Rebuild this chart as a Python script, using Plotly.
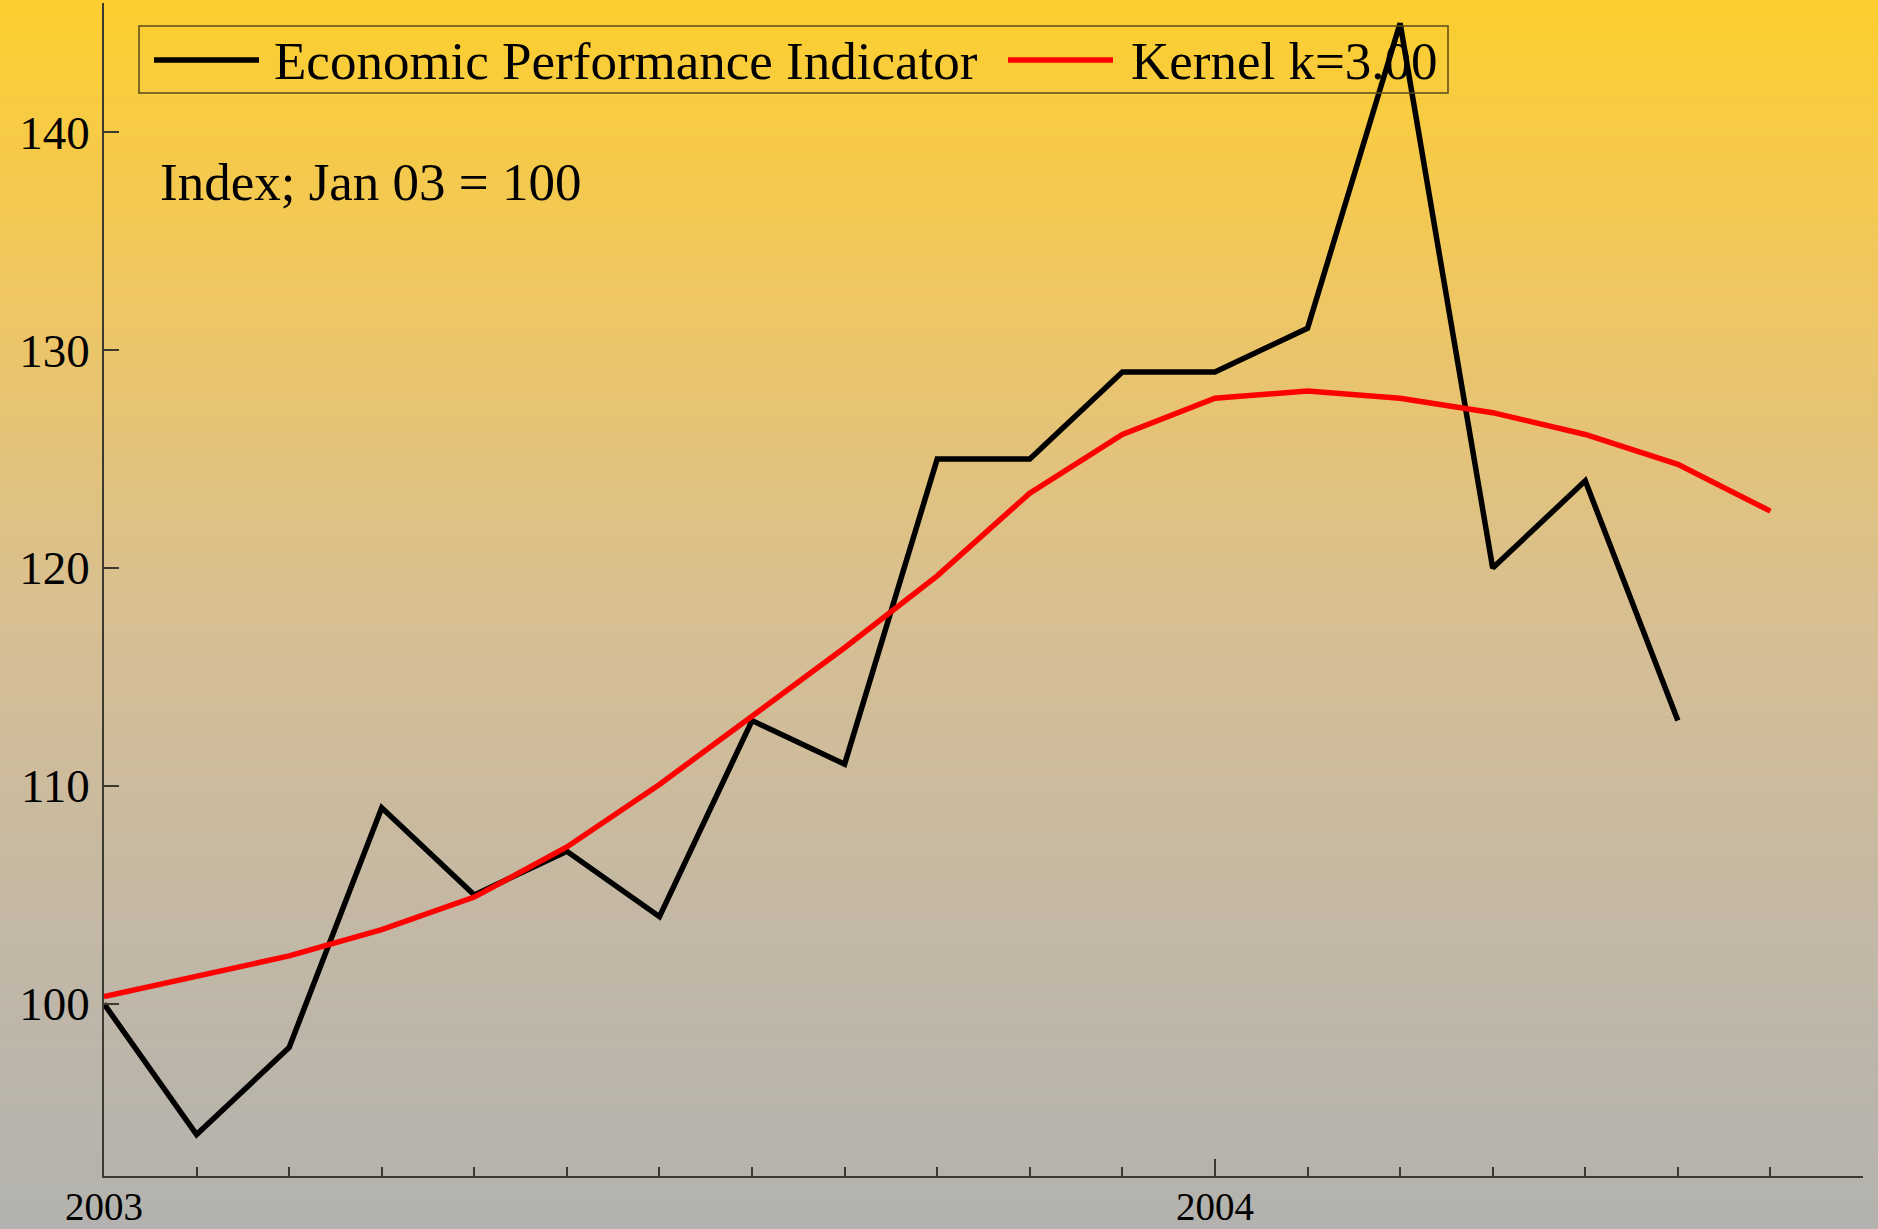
import plotly.graph_objects as go

# ---------------- data ----------------
months = ["Jan 03", "Feb 03", "Mar 03", "Apr 03", "May 03", "Jun 03", "Jul 03",
          "Aug 03", "Sep 03", "Oct 03", "Nov 03", "Dec 03", "Jan 04", "Feb 04",
          "Mar 04", "Apr 04", "May 04", "Jun 04", "Jul 04", "Aug 04"]
economic_indicator = [100, 94, 98, 109, 105, 107, 104, 113, 111, 125, 125, 129,
                      129, 131, 145, 120, 124, 113]
kernel_k3 = [100.33, 101.27, 102.2, 103.41, 104.9, 107.2, 110.07, 113.2, 116.34,
             119.64, 123.44, 126.13, 127.79, 128.12, 127.79, 127.13, 126.13,
             124.76, 122.61]
year_labels = ["2003", "2004"]
year_positions = [months.index("Jan 03"), months.index("Jan 04")]
y_ticks = [100, 110, 120, 130, 140]
series_names = ["Economic Performance Indicator", "Kernel k=3.00"]
note_text = "Index; Jan 03 = 100"

# ---------------- layout geometry ----------------
W, H = 1878, 1229
ML, MR, MT, MB = 104, 15, 3, 53
PW, PH = W - ML - MR, H - MT - MB
FONT = "Liberation Serif, Times New Roman, serif"


def px(x):
    return (x - ML) / PW


def py(y):
    return (H - MB - y) / PH


x_idx = list(range(len(months)))

fig = go.Figure()
fig.add_trace(go.Scatter(x=x_idx[:len(economic_indicator)], y=economic_indicator,
                         mode="lines", name=series_names[0],
                         line=dict(color="black", width=5.5), showlegend=False))
fig.add_trace(go.Scatter(x=x_idx[:len(kernel_k3)], y=kernel_k3,
                         mode="lines", name=series_names[1],
                         line=dict(color="#ff0000", width=5.5), showlegend=False))

# ---------------- background gradient ----------------
stops = [(0.0, (253, 206, 46)), (0.25, (238, 198, 100)), (0.5, (215, 191, 146)),
         (0.75, (195, 184, 165)), (1.0, (179, 178, 174))]


def grad(t):
    for (t0, c0), (t1, c1) in zip(stops[:-1], stops[1:]):
        if t0 <= t <= t1:
            f = (t - t0) / (t1 - t0)
            return "rgb(%d,%d,%d)" % tuple(round(a + (b - a) * f) for a, b in zip(c0, c1))
    return "rgb(%d,%d,%d)" % stops[-1][1]


shapes = []
step = 4
for row in range(0, H, step):
    shapes.append(dict(type="rect", xref="paper", yref="paper", layer="below",
                       x0=px(0), x1=px(W), y0=py(row + step + 0.5), y1=py(row),
                       fillcolor=grad((row + step / 2) / H), line=dict(width=0)))

# ---------------- manual legend ----------------
shapes.append(dict(type="rect", xref="paper", yref="paper", layer="above",
                   x0=px(139), x1=px(1448), y0=py(93), y1=py(26),
                   line=dict(color="#5a4a1a", width=1.5), fillcolor="rgba(0,0,0,0)"))
shapes.append(dict(type="line", xref="paper", yref="paper", layer="above",
                   x0=px(154), x1=px(259), y0=py(60), y1=py(60),
                   line=dict(color="black", width=5.5)))
shapes.append(dict(type="line", xref="paper", yref="paper", layer="above",
                   x0=px(1008), x1=px(1113), y0=py(60), y1=py(60),
                   line=dict(color="#ff0000", width=5.5)))

annotations = [
    dict(text=series_names[0], xref="paper", yref="paper", x=px(272), y=py(61),
         xanchor="left", yanchor="middle", showarrow=False,
         font=dict(family=FONT, size=53, color="black")),
    dict(text=series_names[1], xref="paper", yref="paper", x=px(1129), y=py(61),
         xanchor="left", yanchor="middle", showarrow=False,
         font=dict(family=FONT, size=53, color="black")),
    dict(text=note_text, xref="paper", yref="paper", x=px(158), y=py(182),
         xanchor="left", yanchor="middle", showarrow=False,
         font=dict(family=FONT, size=53, color="black")),
]

axis_col = "#3c3a30"
fig.update_layout(
    width=W, height=H,
    margin=dict(l=ML, r=MR, t=MT, b=MB, pad=0, autoexpand=False),
    paper_bgcolor="rgb(179,178,174)",
    plot_bgcolor="rgba(0,0,0,0)",
    shapes=shapes,
    annotations=annotations,
    showlegend=False,
    xaxis=dict(range=[0, len(months) - 1], showgrid=False, zeroline=False,
               automargin=False,
               showline=True, linecolor=axis_col, linewidth=1.5,
               tickmode="array", tickvals=year_positions, ticktext=year_labels,
               ticks="inside", ticklen=17, tickwidth=1.5, tickcolor=axis_col,
               ticklabelstandoff=-5,
               tickfont=dict(family=FONT, size=39, color="black")),
    yaxis=dict(range=[92.1, 145.93], showgrid=False, zeroline=False,
               automargin=False,
               showline=True, linecolor=axis_col, linewidth=1.5,
               tickmode="array", tickvals=y_ticks,
               ticks="inside", ticklen=15, tickwidth=1.5, tickcolor=axis_col,
               ticklabelstandoff=3,
               tickfont=dict(family=FONT, size=47, color="black")),
)
fig.update_xaxes(minor=dict(tickmode="array", tickvals=x_idx, ticks="inside",
                            ticklen=9, tickwidth=1.5, tickcolor=axis_col, showgrid=False))

fig.write_html("out.html", config={"displayModeBar": False},
               post_script="document.body.style.margin='0';"
                           "document.body.style.overflow='hidden';")
